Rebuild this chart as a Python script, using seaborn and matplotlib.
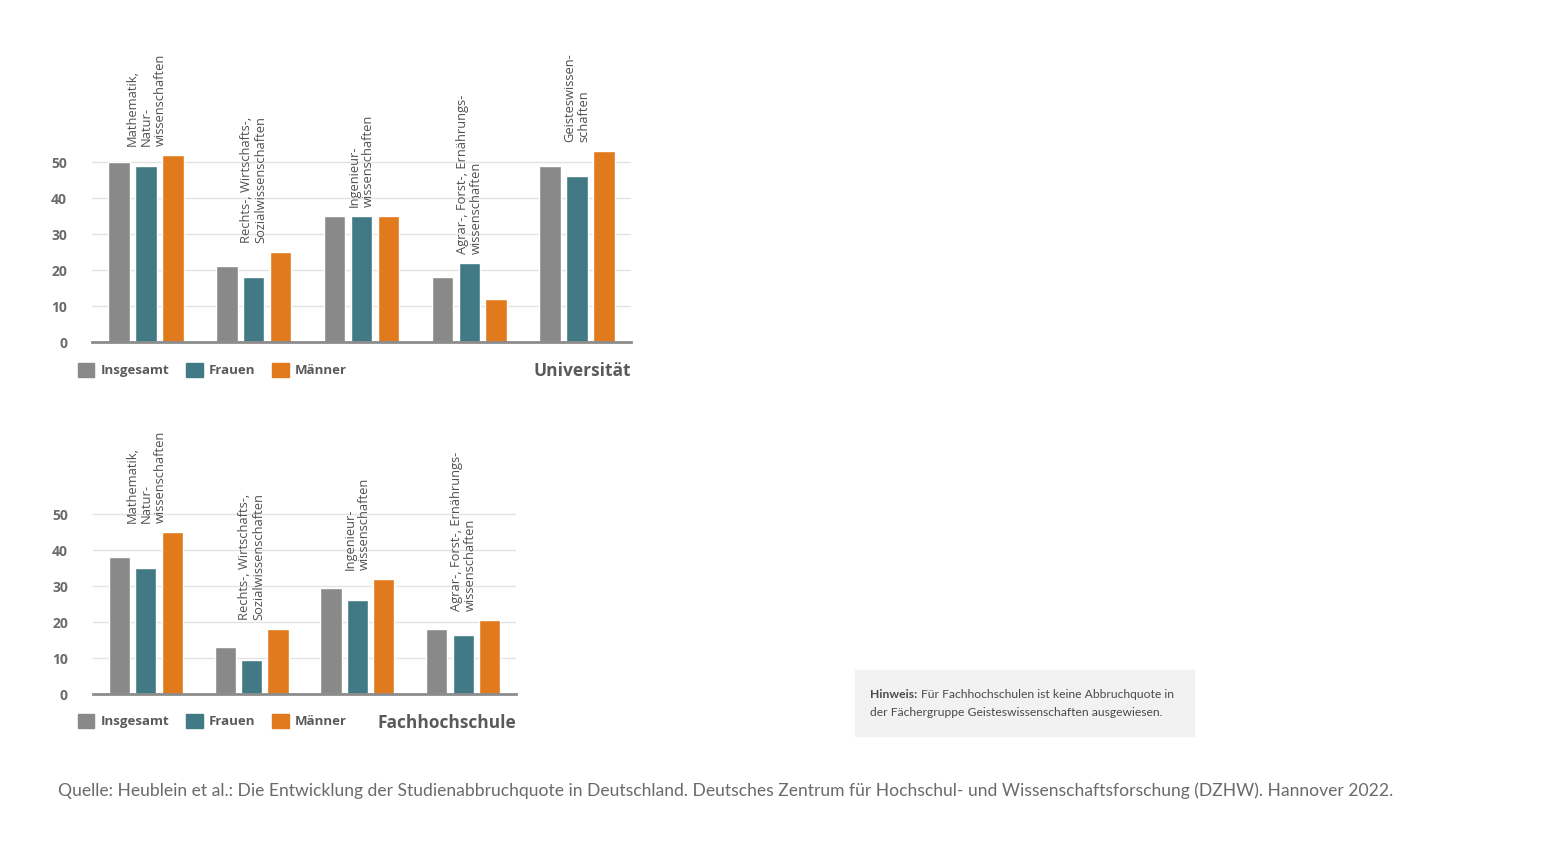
import pandas as pd
import matplotlib.pyplot as plt
import matplotlib.patches as mpatches
import seaborn as sns

# %%
# Abbruchquoten in Prozent
gruppen = ["Insgesamt", "Frauen", "Männer"]
farben = ["#898989", "#417a84", "#e07a1c"]

uni_faecher = ["Mathematik,\nNatur-\nwissenschaften",
               "Rechts-, Wirtschafts-,\nSozialwissenschaften",
               "Ingenieur-\nwissenschaften",
               "Agrar-, Forst-, Ernährungs-\nwissenschaften",
               "Geisteswissen-\nschaften"]
uni_insgesamt = [50, 21, 35, 18, 49]
uni_frauen = [49, 18, 35, 22, 46]
uni_maenner = [52, 25, 35, 12, 53]

fh_faecher = uni_faecher[:4]
fh_insgesamt = [38, 13, 29.5, 18]
fh_frauen = [35, 9.5, 26, 16.5]
fh_maenner = [45, 18, 32, 20.5]

yticks = [0, 10, 20, 30, 40, 50]

quelle = ("Quelle: Heublein et al.: Die Entwicklung der Studienabbruchquote in Deutschland. "
          "Deutsches Zentrum für Hochschul- und Wissenschaftsforschung (DZHW). Hannover 2022.")

# %%
sns.set_theme(style="white")
plt.rcParams['font.family'] = ['Open Sans', 'DejaVu Sans']

fig = plt.figure(figsize=(15.6, 8.43), dpi=100)
ax_uni = fig.add_axes([92 / 1560, 1 - 342 / 843, 539 / 1560, 216 / 843])
ax_fh = fig.add_axes([93 / 1560, 1 - 694 / 843, 423 / 1560, 216 / 843])


def make_df(faecher, ins, fr, ma):
    rows = []
    for werte, g in zip([ins, fr, ma], gruppen):
        for f, v in zip(faecher, werte):
            rows.append({"Fach": f, "Gruppe": g, "Quote": v})
    return pd.DataFrame(rows)


def draw(ax, df, faecher, titel, legend_y):
    sns.barplot(data=df, x="Fach", y="Quote", hue="Gruppe", order=faecher,
                hue_order=gruppen, palette=farben, width=0.75, gap=0.2,
                saturation=1, ax=ax)
    ax.set_ylim(0, 60)
    ax.set_xlim(-0.5, len(faecher) - 0.5)
    ax.set_yticks(yticks)
    ax.set_yticklabels([str(t) for t in yticks], fontsize=10, fontweight='bold',
                       color="#6b6b6b")
    ax.tick_params(axis='y', length=0, pad=18)
    ax.set_xticks([])
    ax.set_xlabel("")
    ax.set_ylabel("")
    ax.grid(axis='y', color="#e3e3e3", linewidth=1)
    ax.set_axisbelow(True)
    for s in ["top", "right", "left"]:
        ax.spines[s].set_visible(False)
    ax.spines["bottom"].set_color("#8c8c8c")
    ax.spines["bottom"].set_linewidth(2)

    # Fachbezeichnungen über den Balken
    hoechst = df.groupby("Fach")["Quote"].max()
    for i, f in enumerate(faecher):
        ax.text(i, hoechst[f] + 2.5, f, rotation=90, ha='center', va='bottom',
                multialignment='left', fontsize=9.3, color="#505050",
                linespacing=1.1)

    ax.legend_.remove()
    handles = [mpatches.Patch(color=c, label=g) for g, c in zip(gruppen, farben)]
    fig.legend(handles=handles, loc='center left',
               bbox_to_anchor=(78 / 1560, 1 - legend_y / 843),
               ncol=3, frameon=False, handlelength=1.25, handleheight=1.25,
               handletextpad=0.45, columnspacing=1.3, borderpad=0,
               borderaxespad=0, prop={'size': 9.5, 'weight': 'bold'},
               labelcolor="#5a5a5a")
    ax.text(1, -29 / 216, titel, transform=ax.transAxes, ha='right',
            va='center', fontsize=12.5, fontweight='bold', color="#5a5a5a")


draw(ax_uni, make_df(uni_faecher, uni_insgesamt, uni_frauen, uni_maenner),
     uni_faecher, "Universität", 370)
draw(ax_fh, make_df(fh_faecher, fh_insgesamt, fh_frauen, fh_maenner),
     fh_faecher, "Fachhochschule", 721)

# %%
# Hinweis-Kasten
fig.patches.append(mpatches.Rectangle((855 / 1560, 1 - 736 / 843), 339 / 1560, 66 / 843,
                                      transform=fig.transFigure, color="#f2f2f2",
                                      zorder=0))
fig.text(870 / 1560, 1 - 694 / 843, "Hinweis:", fontsize=8.7, fontweight='bold',
         color="#4a4a4a", family='Lato', va='center')
fig.text(921 / 1560, 1 - 694 / 843, "Für Fachhochschulen ist keine Abbruchquote in",
         fontsize=8.7, color="#4a4a4a", family='Lato', va='center')
fig.text(870 / 1560, 1 - 712 / 843, "der Fächergruppe Geisteswissenschaften ausgewiesen.",
         fontsize=8.7, color="#4a4a4a", family='Lato', va='center')

fig.text(58 / 1560, 1 - 791 / 843, quelle, fontsize=12.6, color="#6a6a6a",
         family='Lato', va='center')

fig.savefig("out.png", dpi=100, facecolor="white")
